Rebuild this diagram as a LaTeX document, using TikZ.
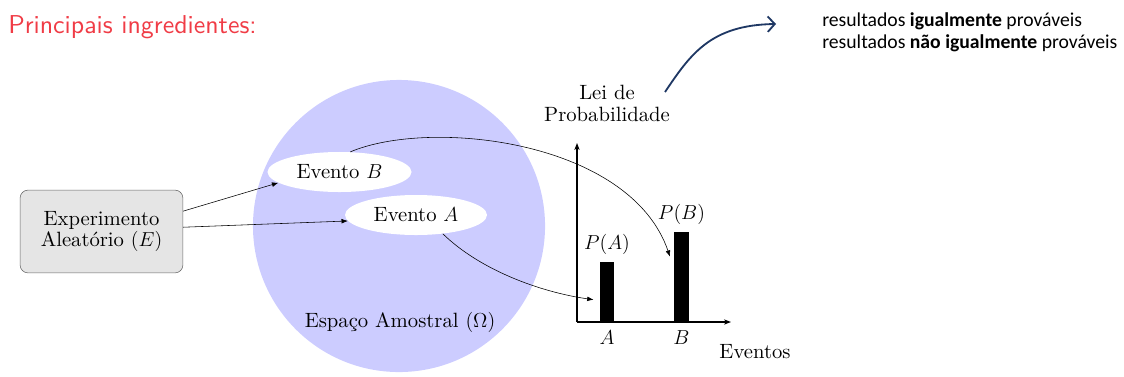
\documentclass[tikz,border=0pt]{standalone}
\usepackage{fontspec}
\setmainfont{lmroman10-regular.otf}[ItalicFont=lmroman10-italic.otf, BoldFont=lmroman10-bold.otf]
\newfontfamily\titlefont{lmsans10-regular.otf}
\newfontfamily\calibri{Carlito}
\usetikzlibrary{arrows.meta, positioning, shapes.geometric}
\definecolor{titlered}{RGB}{240,60,70}
\definecolor{spacefill}{RGB}{204,204,255}
\definecolor{navy}{RGB}{31,56,100}

\begin{document}
\begin{tikzpicture}[
  x=0.025cm, y=-0.025cm,
  every node/.style={font=\fontsize{14.7}{15.6}\selectfont},
  expbox/.style={draw=black!60, fill=black!10, rounded corners=0.2cm,
                 minimum width=4.07cm, minimum height=2.07cm, align=center},
  evento/.style={ellipse, fill=white, inner sep=0pt, minimum height=1cm},
  bar/.style={fill=black, inner sep=0pt, minimum width=0.36cm, anchor=south},
  arrow/.style={-{Latex[length=4.5pt]}, thin},
  axis/.style={-{Stealth[length=5pt]}, line width=1.2pt}
]
\useasboundingbox (0,0) rectangle (1124,376);

\node[anchor=base west, inner sep=0pt, text=titlered,
      font=\titlefont\fontsize{18.4}{22}\selectfont] (title) at (8,33) {Principais ingredientes:};

\node[circle, fill=spacefill, minimum size=7.3cm] (omega) at (399,226) {};
\node (omegalbl) at (400,322) {Espa\c{c}o Amostral $(\Omega)$};

\node[expbox] (exp) at (101.5,231.5) {Experimento\\Aleat\'orio $(E)$};
\node[evento, minimum width=3.6cm] (evB) at (339.5,172) {Evento $B$};
\node[evento, minimum width=3.55cm] (evA) at (416,215) {Evento $A$};

\coordinate (O) at (577,322);
\coordinate (ytop) at (577,143);
\coordinate (xend) at (731,322);
\draw[axis] (O) -- (ytop);
\draw[axis] (O) -- (xend);

\node[bar, minimum height=1.5cm] (barA) at (607,322) {};
\node[bar, minimum height=2.25cm] (barB) at (681.5,322) {};
\node[above=0.05cm of barA] (pA) {$P(A)$};
\node[above=0.05cm of barB] (pB) {$P(B)$};
\node (lblA) at (607,338) {$A$};
\node (lblB) at (681.5,338) {$B$};
\node (eventos) at (755,352) {Eventos};
\node[align=center] (lei) at (607,103) {Lei de\\Probabilidade};

\draw[arrow] (exp.14) -- (evB.190);
\draw[arrow] (exp.3) -- (evA.185);
\draw[arrow] (evB.62) .. controls (430,118) and (630,140) .. ([xshift=-0.1cm, yshift=0.5cm]barB.west);
\draw[arrow] (evA.-35) .. controls (480,270) and (540,292) .. ([xshift=-0.15cm, yshift=-0.2cm]barA.west);

\coordinate (curlstart) at (665,92);
\coordinate (curlend) at (776,24);
\draw[navy, line width=1.3pt, -{Straight Barb[length=5pt, width=11pt]}]
  (curlstart) .. controls (690,55) and (710,25) .. (curlend);

\node[anchor=north west, inner sep=0pt, align=left,
      font=\calibri\fontsize{14}{15.6}\selectfont] (result) at (822,12)
  {resultados \textbf{igualmente} prov\'aveis\\resultados \textbf{n\~ao igualmente} prov\'aveis};
\end{tikzpicture}
\end{document}
